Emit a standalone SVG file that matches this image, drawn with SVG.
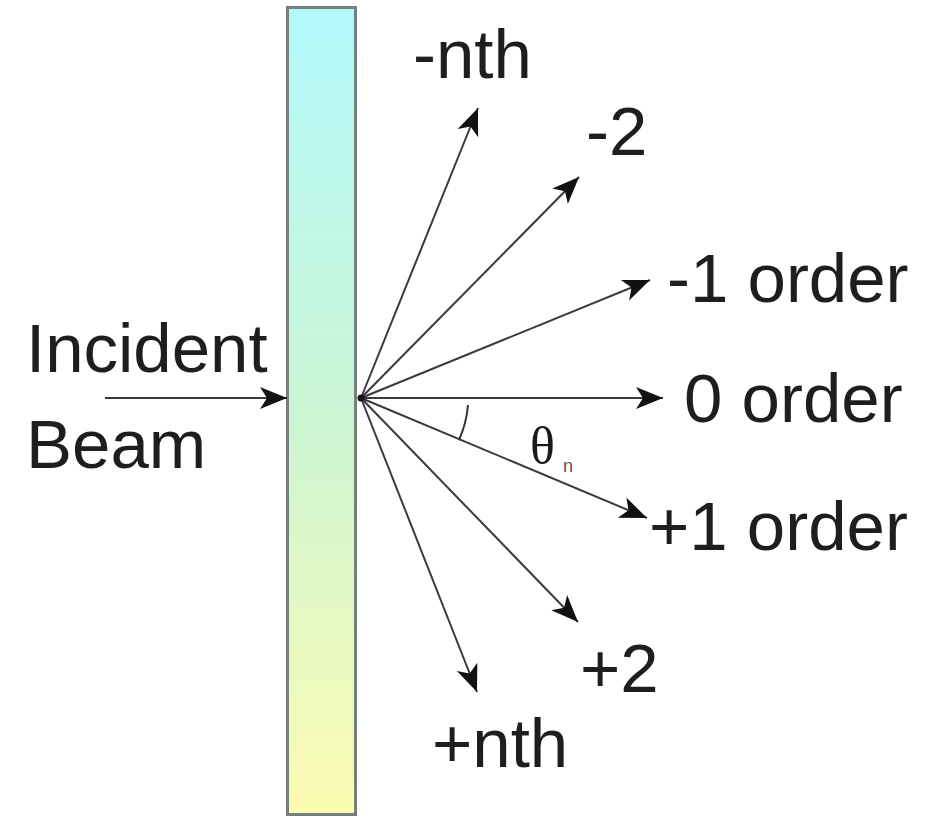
<svg xmlns="http://www.w3.org/2000/svg" width="935" height="818" viewBox="0 0 935 818">
<defs>
<linearGradient id="barGrad" x1="0" y1="0" x2="0" y2="1">
<stop offset="0" stop-color="#b2f9fc"/>
<stop offset="0.5" stop-color="#cbf5d4"/>
<stop offset="1" stop-color="#fdfbb2"/>
</linearGradient>
<marker id="arrow" markerUnits="userSpaceOnUse" markerWidth="30" markerHeight="24" viewBox="-28 -12 30 24" refX="0" refY="0" orient="auto">
<path d="M0,0 L-27,-11 L-20,0 L-27,11 Z" fill="#111"/>
</marker>
<style>
.lbl{font-family:"Liberation Sans",Arial,sans-serif;font-size:69px;fill:#1e1e1e}
.ray{stroke:#3a3a3a;stroke-width:2;fill:none;marker-end:url(#arrow)}
</style>
</defs>
<g id="grating">
<rect x="287.5" y="7.5" width="68" height="807" fill="url(#barGrad)" stroke="#74807c" stroke-width="3"/>
</g>
<g id="connectors">
<line class="ray" x1="105" y1="398" x2="287" y2="398"/>
<line class="ray" x1="361" y1="398" x2="478" y2="108"/>
<line class="ray" x1="361" y1="398" x2="579" y2="177"/>
<line class="ray" x1="361" y1="398" x2="650" y2="280"/>
<line class="ray" x1="361" y1="398" x2="663" y2="398"/>
<line class="ray" x1="361" y1="398" x2="647" y2="518"/>
<line class="ray" x1="361" y1="398" x2="578" y2="622"/>
<line class="ray" x1="361" y1="398" x2="477" y2="692"/>
<path d="M468,405 A107,107 0 0 1 459,440" stroke="#333" stroke-width="2" fill="none"/>
<circle cx="361" cy="398" r="3.5" fill="#111"/>
</g>
<g id="labels">
<text class="lbl" x="26" y="372">Incident</text>
<text class="lbl" x="26" y="468">Beam</text>
<text class="lbl" x="413" y="78">-nth</text>
<text class="lbl" x="586" y="155">-2</text>
<text class="lbl" x="667" y="302">-1 order</text>
<text class="lbl" x="684" y="422">0 order</text>
<text class="lbl" x="649" y="550">+1 order</text>
<text class="lbl" x="580" y="692">+2</text>
<text class="lbl" x="432" y="767">+nth</text>
<text x="530" y="463" font-family="'Liberation Serif','Times New Roman',serif" font-size="52" fill="#1a1a1a">θ</text>
<text x="563" y="472" font-family="'Liberation Sans',Arial,sans-serif" font-size="18" fill="#555">n</text>
</g>
</svg>
